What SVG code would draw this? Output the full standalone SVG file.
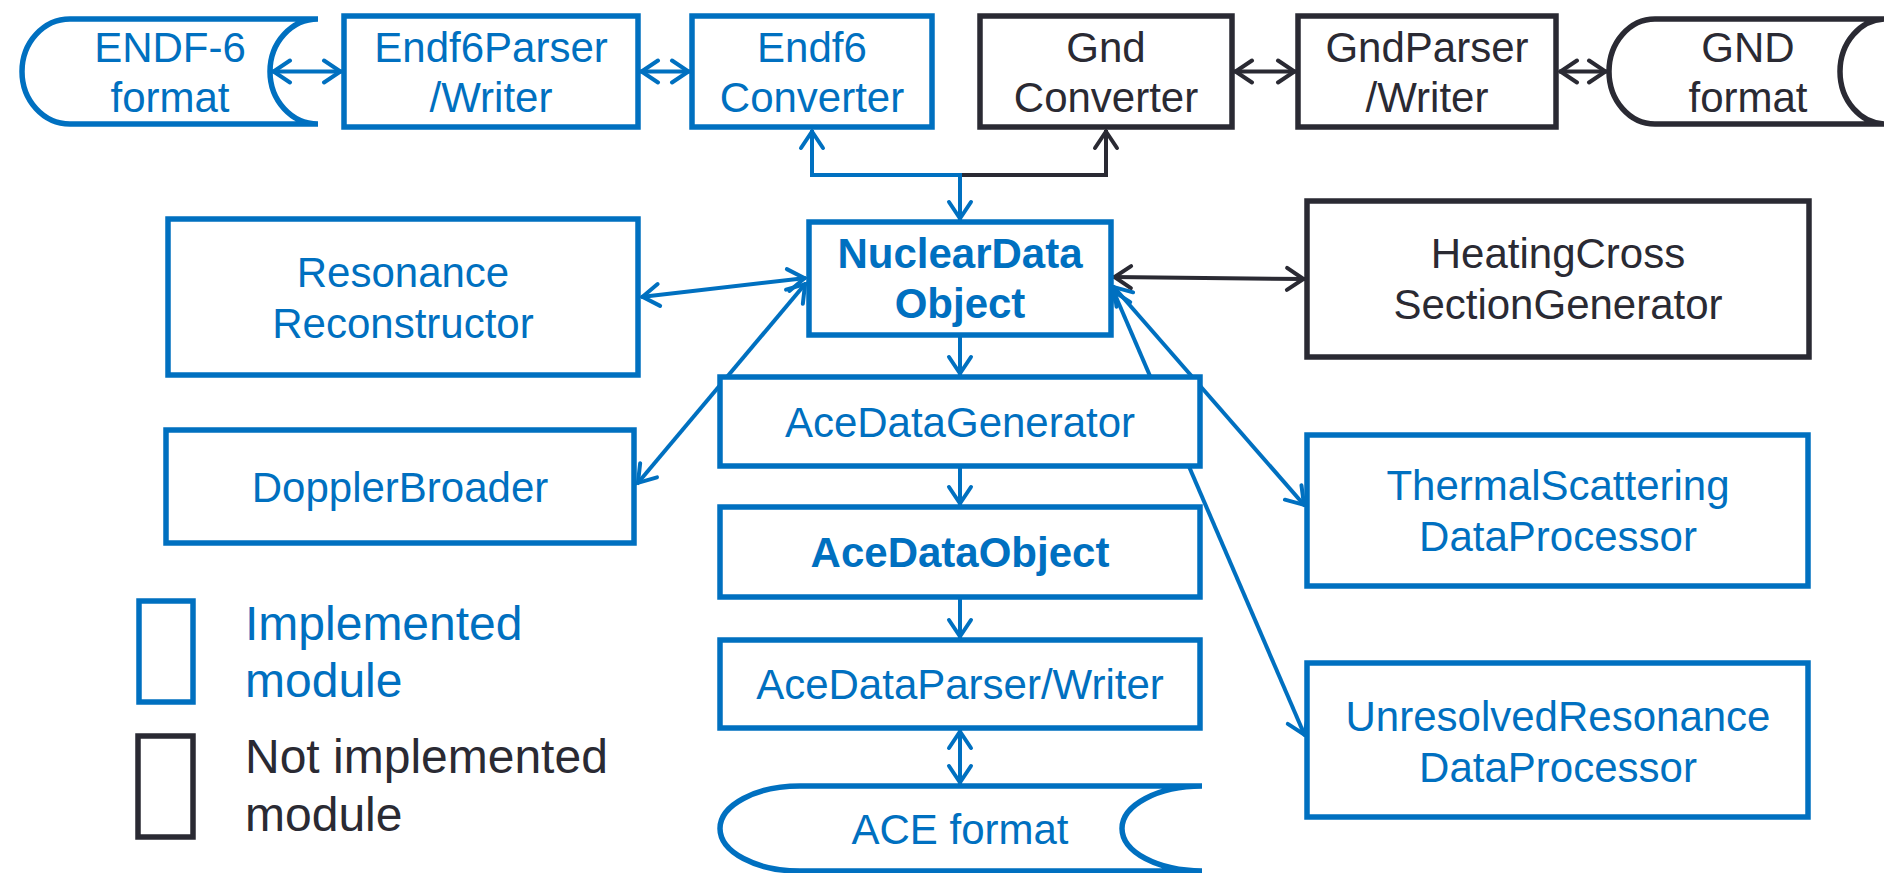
<svg xmlns="http://www.w3.org/2000/svg" width="1884" height="873" viewBox="0 0 1884 873">
<style>
.bb{fill:#fff;stroke:#0070C0;stroke-width:5.5}
.db{fill:#fff;stroke:#2A2A33;stroke-width:5.5}
.bt{font-family:"Liberation Sans",Arial,sans-serif;font-size:42px;fill:#0070C0;text-anchor:middle}
.dt{font-family:"Liberation Sans",Arial,sans-serif;font-size:42px;fill:#2A2A33;text-anchor:middle}
.bold{font-weight:bold}
.lg{font-family:"Liberation Sans",Arial,sans-serif;font-size:48px}
.bc{fill:none;stroke:#0070C0;stroke-width:4;marker-start:url(#ab);marker-end:url(#ab)}
.bce{fill:none;stroke:#0070C0;stroke-width:4;marker-end:url(#ab)}
.dc{fill:none;stroke:#2A2A33;stroke-width:4;marker-start:url(#ad);marker-end:url(#ad)}
.dce{fill:none;stroke:#2A2A33;stroke-width:4;marker-end:url(#ad)}
</style>
<defs>
<marker id="ab" markerUnits="userSpaceOnUse" markerWidth="28" markerHeight="28" viewBox="-24 -14 28 28" refX="0" refY="0" orient="auto-start-reverse">
<path d="M-18,-11 L-1.5,0 L-18,11" fill="none" stroke="#0070C0" stroke-width="4" stroke-linecap="round"/>
</marker>
<marker id="ad" markerUnits="userSpaceOnUse" markerWidth="28" markerHeight="28" viewBox="-24 -14 28 28" refX="0" refY="0" orient="auto-start-reverse">
<path d="M-18,-11 L-1.5,0 L-18,11" fill="none" stroke="#2A2A33" stroke-width="4" stroke-linecap="round"/>
</marker>
</defs>
<rect width="1884" height="873" fill="#fff"/>

<g id="connectors">
<path class="bc" d="M272,71.5 L342,71.5"/>
<path class="bc" d="M640,71.5 L690,71.5"/>
<path class="dc" d="M1234,71.5 L1296,71.5"/>
<path class="dc" d="M1559,71.5 L1607,71.5"/>
<path class="dce" d="M960,175 L1106,175 L1106,130"/>
<path class="bc" d="M960,220 L960,175 L812,175 L812,130"/>
<path class="bc" d="M641,297 L806,278"/>
<path class="bc" d="M806,283 L637,484"/>
<path class="bce" d="M960,337 L960,375"/>
<path class="bce" d="M960,468 L960,505"/>
<path class="bce" d="M960,599 L960,638"/>
<path class="bc" d="M960,730 L960,784"/>
<path class="dc" d="M1113,277 L1305,279"/>
<path class="bc" d="M1113,286 L1305,506"/>
<path class="bc" d="M1113,290 L1305,736"/>
</g>

<g id="endf6-format">
<path class="bb" d="M318,19 L70,19 A48,52.5 0 0 0 70,124 L318,124 A48,52.5 0 0 1 318,19 Z"/>
<text class="bt" x="170" y="62">ENDF-6</text>
<text class="bt" x="170" y="112">format</text>
</g>
<g id="endf6-parser">
<rect class="bb" x="344" y="16" width="294" height="111"/>
<text class="bt" x="491" y="62">Endf6Parser</text>
<text class="bt" x="491" y="112">/Writer</text>
</g>
<g id="endf6-converter">
<rect class="bb" x="692" y="16" width="240" height="111"/>
<text class="bt" x="812" y="62">Endf6</text>
<text class="bt" x="812" y="112">Converter</text>
</g>
<g id="gnd-converter">
<rect class="db" x="980" y="16" width="252" height="111"/>
<text class="dt" x="1106" y="62">Gnd</text>
<text class="dt" x="1106" y="112">Converter</text>
</g>
<g id="gnd-parser">
<rect class="db" x="1298" y="16" width="258" height="111"/>
<text class="dt" x="1427" y="62">GndParser</text>
<text class="dt" x="1427" y="112">/Writer</text>
</g>
<g id="gnd-format">
<path class="db" d="M1886,19 L1655,19 A46,52.5 0 0 0 1655,124 L1886,124 A46,52.5 0 0 1 1886,19 Z"/>
<text class="dt" x="1748" y="62">GND</text>
<text class="dt" x="1748" y="112">format</text>
</g>

<g id="nuclear-data-object">
<rect class="bb" x="809" y="222" width="302" height="113"/>
<text class="bt bold" x="960" y="268">NuclearData</text>
<text class="bt bold" x="960" y="318">Object</text>
</g>
<g id="resonance-reconstructor">
<rect class="bb" x="168" y="219" width="470" height="156"/>
<text class="bt" x="403" y="287">Resonance</text>
<text class="bt" x="403" y="338">Reconstructor</text>
</g>
<g id="doppler-broader">
<rect class="bb" x="166" y="430" width="468" height="113"/>
<text class="bt" x="400" y="502">DopplerBroader</text>
</g>
<g id="heating-cross-section-generator">
<rect class="db" x="1307" y="201" width="502" height="156"/>
<text class="dt" x="1558" y="268">HeatingCross</text>
<text class="dt" x="1558" y="319">SectionGenerator</text>
</g>
<g id="ace-data-generator">
<rect class="bb" x="720" y="377" width="480" height="89"/>
<text class="bt" x="960" y="437">AceDataGenerator</text>
</g>
<g id="thermal-scattering">
<rect class="bb" x="1307" y="435" width="501" height="151"/>
<text class="bt" x="1558" y="500">ThermalScattering</text>
<text class="bt" x="1558" y="551">DataProcessor</text>
</g>
<g id="ace-data-object">
<rect class="bb" x="720" y="507" width="480" height="90"/>
<text class="bt bold" x="960" y="567">AceDataObject</text>
</g>
<g id="ace-data-parser">
<rect class="bb" x="720" y="640" width="480" height="88"/>
<text class="bt" x="960" y="699">AceDataParser/Writer</text>
</g>
<g id="unresolved-resonance">
<rect class="bb" x="1307" y="663" width="501" height="154"/>
<text class="bt" x="1558" y="731">UnresolvedResonance</text>
<text class="bt" x="1558" y="782">DataProcessor</text>
</g>
<g id="ace-format">
<path class="bb" d="M1202,786 L800,786 A80,42.5 0 0 0 800,871 L1202,871 A80,42.5 0 0 1 1202,786 Z"/>
<text class="bt" x="960" y="844">ACE format</text>
</g>

<g id="legend-implemented">
<rect class="bb" x="139" y="601" width="54" height="101"/>
<text class="lg" x="245" y="640" fill="#0070C0">Implemented</text>
<text class="lg" x="245" y="697" fill="#0070C0">module</text>
</g>
<g id="legend-not-implemented">
<rect class="db" x="138" y="736" width="55" height="101"/>
<text class="lg" x="245" y="773" fill="#2A2A33">Not implemented</text>
<text class="lg" x="245" y="831" fill="#2A2A33">module</text>
</g>
</svg>
